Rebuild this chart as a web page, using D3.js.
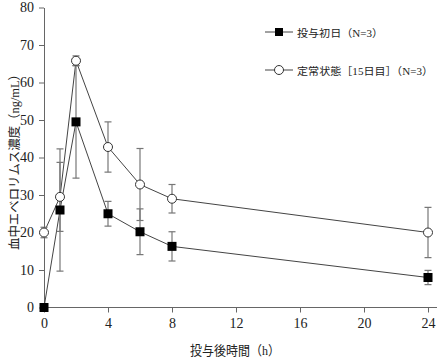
<!DOCTYPE html>
<html><head><meta charset="utf-8">
<script src="https://cdn.jsdelivr.net/npm/d3@7"></script>
<style>body{margin:0;background:#fff}svg{display:block}text{font-family:"Liberation Serif","Noto Sans CJK JP",serif;fill:#222}</style>
</head><body><svg id="c" width="440" height="361"></svg>
<script>
const times = [0, 1, 2, 4, 6, 8, 24];
const day1Mean = [0, 26, 49.5, 25, 20.2, 16.3, 8];
const day1SD   = [0, 16.3, 15, 3.3, 6.1, 3.9, 1.9];
const ssMean   = [20, 29.5, 65.8, 42.8, 32.8, 29, 20];
const ssSD     = [1.4, 9.2, 1.3, 6.7, 9.6, 3.8, 6.7];
const xTicks = [0, 4, 8, 12, 16, 20, 24];
const yTicks = [0, 10, 20, 30, 40, 50, 60, 70, 80];
const legendLabels = ["投与初日（N=3）", "定常状態［15日目］（N=3）"];
const xLabel = "投与後時間（h）";
const yLabel = "血中エベロリムス濃度（ng/mL）";

const svg = d3.select("#c");
const x = d3.scaleLinear().domain([0, 24]).range([44, 428]);
const y = d3.scaleLinear().domain([0, 80]).range([307.5, 7.5]);
const axisCol = "#666";

const xa = svg.append("g").attr("transform", "translate(0,307.5)")
  .call(d3.axisBottom(x).tickValues(xTicks).tickSize(5).tickPadding(6).tickSizeOuter(0));
xa.select(".domain").attr("d", "M44,0H437");
const ya = svg.append("g").attr("transform", "translate(44,0)")
  .call(d3.axisLeft(y).tickValues(yTicks).tickSize(5).tickPadding(5).tickSizeOuter(0));
[xa, ya].forEach(a => {
  a.selectAll(".domain").attr("stroke", axisCol);
  a.selectAll(".tick line").attr("stroke", axisCol);
  a.selectAll("text").attr("font-size", 14).attr("font-family", "Liberation Serif").attr("fill", "#222");
});

svg.append("text").attr("x", 235).attr("y", 355).attr("text-anchor", "middle")
  .attr("font-size", 13).attr("textLength", 90).attr("lengthAdjust", "spacingAndGlyphs").text(xLabel);
svg.append("text").attr("transform", "translate(19,159) rotate(-90)").attr("text-anchor", "middle")
  .attr("font-size", 12.5).attr("textLength", 182).attr("lengthAdjust", "spacingAndGlyphs").text(yLabel);

const series = [
  {m: day1Mean, s: day1SD, shape: "square"},
  {m: ssMean, s: ssSD, shape: "circle"}
];
const line = d3.line().x(d => x(d.t)).y(d => y(d.v));
series.forEach(se => {
  const pts = times.map((t, i) => ({t, v: se.m[i], sd: se.s[i]}));
  svg.append("path").datum(pts).attr("d", line).attr("fill", "none").attr("stroke", "#444").attr("stroke-width", 1);
  se.pts = pts;
});
series.forEach(se => {
  const g = svg.append("g").attr("stroke", "#777").attr("stroke-width", 1.2).attr("fill", "none");
  se.pts.filter(d => d.sd > 0).forEach(d => {
    const cx = x(d.t), y1 = y(d.v - d.sd), y2 = y(d.v + d.sd);
    g.append("line").attr("x1", cx).attr("x2", cx).attr("y1", y1).attr("y2", y2);
    g.append("line").attr("x1", cx - 3.5).attr("x2", cx + 3.5).attr("y1", y1).attr("y2", y1);
    g.append("line").attr("x1", cx - 3.5).attr("x2", cx + 3.5).attr("y1", y2).attr("y2", y2);
  });
});
series.forEach(se => {
  se.pts.forEach(d => {
    if (se.shape === "square") {
      svg.append("rect").attr("x", x(d.t) - 4.5).attr("y", y(d.v) - 4.5).attr("width", 9).attr("height", 9).attr("fill", "#000");
    } else {
      svg.append("circle").attr("cx", x(d.t)).attr("cy", y(d.v)).attr("r", 4.5).attr("fill", "#fff").attr("stroke", "#333").attr("stroke-width", 1);
    }
  });
});

// legend
const lg = [{shape: "square", yy: 32, w: 86}, {shape: "circle", yy: 70, w: 136}];
lg.forEach((l, i) => {
  svg.append("line").attr("x1", 265).attr("x2", 293).attr("y1", l.yy).attr("y2", l.yy).attr("stroke", "#444");
  if (l.shape === "square") svg.append("rect").attr("x", 275).attr("y", l.yy - 4).attr("width", 8).attr("height", 8).attr("fill", "#000");
  else svg.append("circle").attr("cx", 279).attr("cy", l.yy).attr("r", 4.5).attr("fill", "#fff").attr("stroke", "#333");
  svg.append("text").attr("x", 297).attr("y", l.yy + 4.5).attr("font-size", 10.5)
    .attr("textLength", l.w).attr("lengthAdjust", "spacingAndGlyphs").text(legendLabels[i]);
});
</script></body></html>
